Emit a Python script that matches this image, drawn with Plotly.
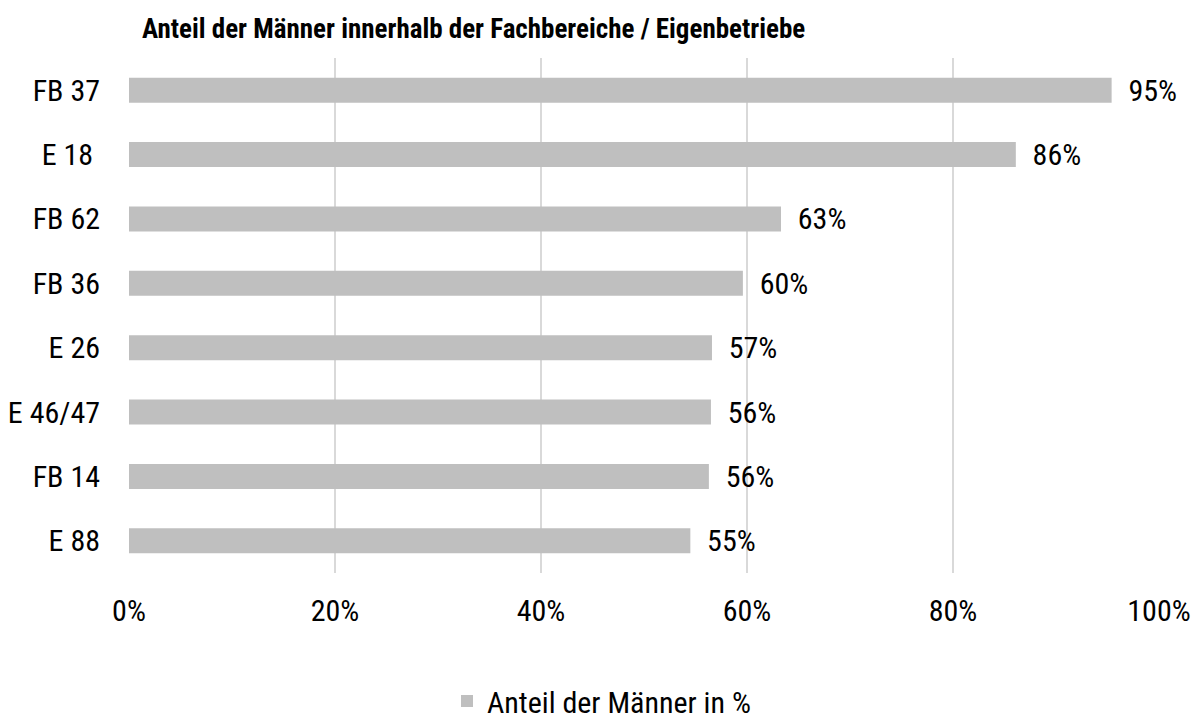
import plotly.graph_objects as go

categories = ["FB 37", "E 18\u00a0", "FB 62", "FB 36", "E 26", "E 46/47", "FB 14", "E 88"]
values = [95.4, 86.1, 63.3, 59.6, 56.6, 56.5, 56.3, 54.5]
labels = ["95%", "86%", "63%", "60%", "57%", "56%", "56%", "55%"]
tick_vals = [0, 20, 40, 60, 80, 100]
tick_text = ["0%", "20%", "40%", "60%", "80%", "100%"]

FONT = "Roboto Condensed"
# page body has an 8px margin, so the figure is drawn 8px smaller and shifted
W, H = 1192, 714
L, R, T, B = 121, 41, 50, 149
PW = W - L - R
PH = H - T - B

fig = go.Figure(go.Bar(
    y=categories, x=values, orientation="h",
    marker=dict(color="#bfbfbf", line=dict(width=0)),
    text=labels, textposition="outside", cliponaxis=False,
    constraintext="none",
    texttemplate="\u00a0\u00a0%{text}",
    textfont=dict(size=30, color="#000000", family=FONT),
    name="Anteil der Männer in %",
    showlegend=True,
))

fig.update_layout(
    width=W, height=H,
    margin=dict(l=L, r=R, t=T, b=B, autoexpand=False),
    plot_bgcolor="white", paper_bgcolor="white",
    font=dict(family=FONT, size=30, color="#000000"),
    bargap=0.61,
    title=dict(text="<b>Anteil der Männer innerhalb der Fachbereiche / Eigenbetriebe</b>",
               x=134/W, xanchor="left", xref="container",
               y=1-21/H, yanchor="middle", yref="container",
               font=dict(size=27, family=FONT, color="#000000")),
    xaxis=dict(range=[0, 100], tickvals=tick_vals, ticktext=tick_text,
               showgrid=True, gridcolor="#d9d9d9", gridwidth=2,
               zeroline=False, showline=False, ticks="", tickangle=0,
               automargin=False,
               ticklabelstandoff=17, tickfont=dict(size=30)),
    yaxis=dict(autorange="reversed", showgrid=False, showline=False, ticks="",
               automargin=False,
               ticklabelstandoff=28, tickfont=dict(size=30)),
    legend=dict(orientation="h", x=(593.5-L)/PW, xanchor="center",
                y=(PH+T-693)/PH, yanchor="middle",
                font=dict(size=30, family=FONT)),
)

fig.write_html("out.html")
